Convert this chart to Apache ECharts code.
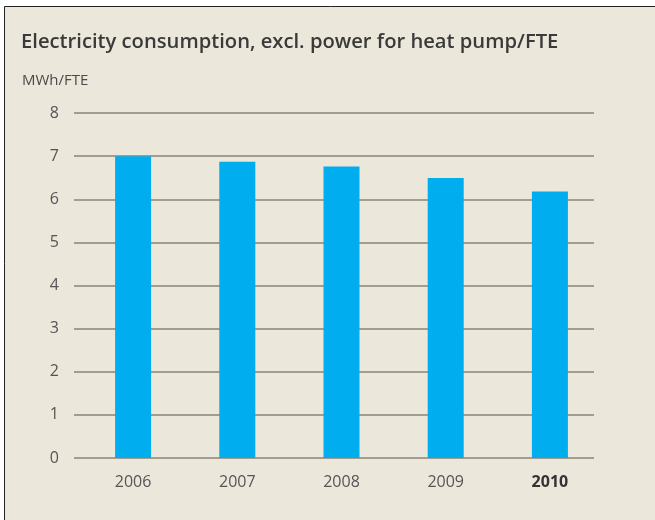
<!DOCTYPE html>
<html>
<head>
<meta charset="utf-8">
<script src="https://cdn.jsdelivr.net/npm/echarts@6/dist/echarts.min.js"></script>
<style>
    html, body { margin: 0; padding: 0; background: #fff; }
    #chart { width: 655px; height: 520px; }
</style>
</head>
<body>
<div id="chart"></div>
<script>
let years = ['2006', '2007', '2008', '2009', '2010'];
let consumption = [7.0, 6.87, 6.76, 6.49, 6.18];
let yTicks = [0, 1, 2, 3, 4, 5, 6, 7, 8];

let chart = echarts.init(document.getElementById('chart'));
let font = '"Open Sans", "Noto Sans", sans-serif';
let gridTop = 113, gridHeight = 345;

let option = {
    backgroundColor: '#ffffff',
    animation: false,
    graphic: [{
        type: 'rect',
        z: -10,
        shape: {x: 4.5, y: 6.5, width: 700, height: 600},
        style: {fill: '#ece7db', stroke: '#222', lineWidth: 1}
    }],
    title: [{
        text: 'Electricity consumption, excl. power for heat pump/FTE',
        left: 16,
        top: 27,
        textStyle: {fontFamily: font, fontSize: 20.2, fontWeight: 600, color: '#3a3a3a'}
    }, {
        text: 'MWh/FTE',
        left: 17,
        top: 68,
        textStyle: {fontFamily: font, fontSize: 15, fontWeight: 'normal', color: '#4a4a4a'}
    }],
    grid: [
        // grid for the horizontal lines and y labels
        {left: 74, width: 520, top: gridTop, height: gridHeight},
        // grid for the bars
        {left: 81, width: 521, top: gridTop, height: gridHeight}
    ],
    xAxis: [{
        gridIndex: 0,
        type: 'category',
        data: years,
        show: false
    }, {
        gridIndex: 1,
        type: 'category',
        data: years,
        axisLine: {show: false},
        axisTick: {show: false},
        axisLabel: {
            margin: 16,
            fontFamily: font,
            fontSize: 16,
            color: '#555',
            formatter: function (value) {
                return value === '2010' ? '{b|' + value + '}' : value;
            },
            rich: {
                b: {fontFamily: font, fontSize: 16, fontWeight: 'bold', color: '#333'}
            }
        }
    }],
    yAxis: [{
        gridIndex: 0,
        type: 'value',
        min: yTicks[0],
        max: yTicks[yTicks.length - 1],
        interval: 1,
        axisLine: {show: false},
        axisTick: {show: false},
        axisLabel: {margin: 15, fontFamily: font, fontSize: 16, color: '#555'},
        splitLine: {lineStyle: {color: '#a39d90', width: 2}}
    }, {
        gridIndex: 1,
        type: 'value',
        min: yTicks[0],
        max: yTicks[yTicks.length - 1],
        interval: 1,
        show: false,
        splitLine: {show: false}
    }],
    series: [{
        type: 'bar',
        xAxisIndex: 1,
        yAxisIndex: 1,
        data: consumption,
        barWidth: 36,
        itemStyle: {color: '#00adee'},
        z: 3
    }]
};

chart.setOption(option);
</script>
</body>
</html>
